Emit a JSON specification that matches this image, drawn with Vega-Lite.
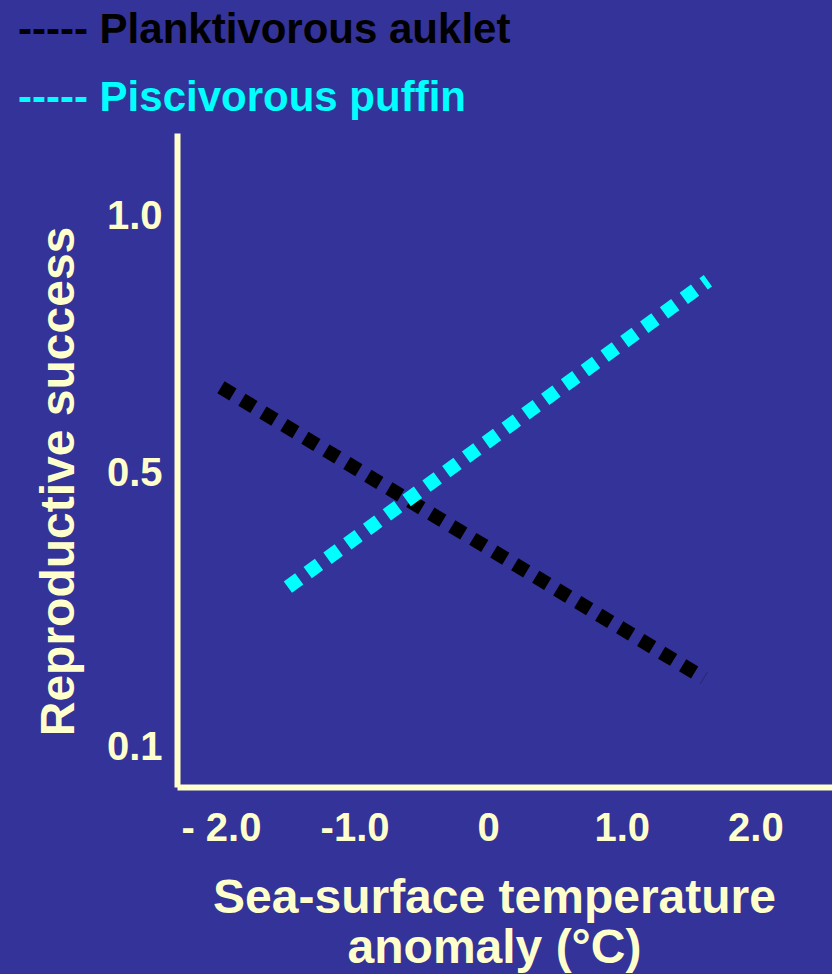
{
  "$schema": "https://vega.github.io/schema/vega-lite/v6.json",
  "autosize": "none",
  "padding": {"left": 177, "top": 133, "right": 0, "bottom": 187},
  "width": 655,
  "height": 654,
  "background": "#333399",
  "config": {"view": {"stroke": null}},
  "data": {
    "values": [
      {"species": "Planktivorous auklet", "anomaly": -2.0, "success": 0.667},
      {"species": "Planktivorous auklet", "anomaly": 1.615, "success": 0.101},
      {"species": "Piscivorous puffin", "anomaly": -1.499, "success": 0.278},
      {"species": "Piscivorous puffin", "anomaly": 1.645, "success": 0.874}
    ]
  },
  "mark": {"type": "line", "strokeWidth": 14, "strokeDash": [14, 10.5], "strokeCap": "butt"},
  "encoding": {
    "x": {
      "field": "anomaly", "type": "quantitative",
      "scale": {"domain": [-2.329, 2.574], "nice": false, "zero": false},
      "axis": {
        "values": [-2, -1, 0, 1, 2],
        "labelExpr": "datum.value == -2 ? '- 2.0' : datum.value == -1 ? '-1.0' : datum.value == 0 ? '0' : datum.value == 1 ? '1.0' : '2.0'",
        "grid": false, "ticks": false, "tickSize": 0,
        "domainColor": "#FFFFCC", "domainWidth": 6,
        "labelFont": "Liberation Sans", "labelFontSize": 40, "labelFontWeight": "bold",
        "labelColor": "#FFFFCC", "labelBaseline": "alphabetic", "labelPadding": 53,
        "labelFlush": false, "labelOverlap": false,
        "title": ["Sea-surface temperature", "anomaly (°C)"],
        "titleFont": "Liberation Sans", "titleFontSize": 48, "titleFontWeight": "bold",
        "titleColor": "#FFFFCC", "titleX": 317, "titleY": 125, "titleAlign": "center",
        "titleBaseline": "alphabetic", "titleLineHeight": 50
      }
    },
    "y": {
      "field": "success", "type": "quantitative",
      "scale": {"domain": [-0.1109, 1.1615], "nice": false, "zero": false},
      "axis": {
        "values": [-0.035, 0.5, 1.0],
        "labelExpr": "datum.value < 0 ? '0.1' : datum.value < 0.9 ? '0.5' : '1.0'",
        "grid": false, "ticks": false, "tickSize": 0,
        "domainColor": "#FFFFCC", "domainWidth": 6,
        "labelFont": "Liberation Sans", "labelFontSize": 40, "labelFontWeight": "bold",
        "labelColor": "#FFFFCC", "labelAlign": "right", "labelBaseline": "middle", "labelPadding": 15,
        "labelFlush": false, "labelOverlap": false,
        "title": "Reproductive success",
        "titleFont": "Liberation Sans", "titleFontSize": 48, "titleFontWeight": "bold",
        "titleColor": "#FFFFCC", "titleX": -104, "titleY": 348, "titleAngle": 270,
        "titleAlign": "center", "titleBaseline": "alphabetic"
      }
    },
    "color": {
      "field": "species", "type": "nominal",
      "scale": {"domain": ["Planktivorous auklet", "Piscivorous puffin"], "range": ["#000000", "#00FFFF"]},
      "legend": {
        "orient": "none", "legendX": -201, "legendY": -124, "direction": "vertical",
        "title": null,
        "labelExpr": "'----- ' + datum.label",
        "labelFont": "Liberation Sans", "labelFontSize": 42, "labelFontWeight": "bold",
        "labelLimit": 1000, "labelOffset": 0,
        "symbolSize": 0, "symbolOpacity": 0, "symbolStrokeWidth": 0,
        "rowPadding": 26,
        "encode": {
          "labels": {
            "update": {
              "fill": {"signal": "datum.value === 'Planktivorous auklet' ? '#000000' : '#00FFFF'"}
            }
          }
        }
      }
    }
  }
}
